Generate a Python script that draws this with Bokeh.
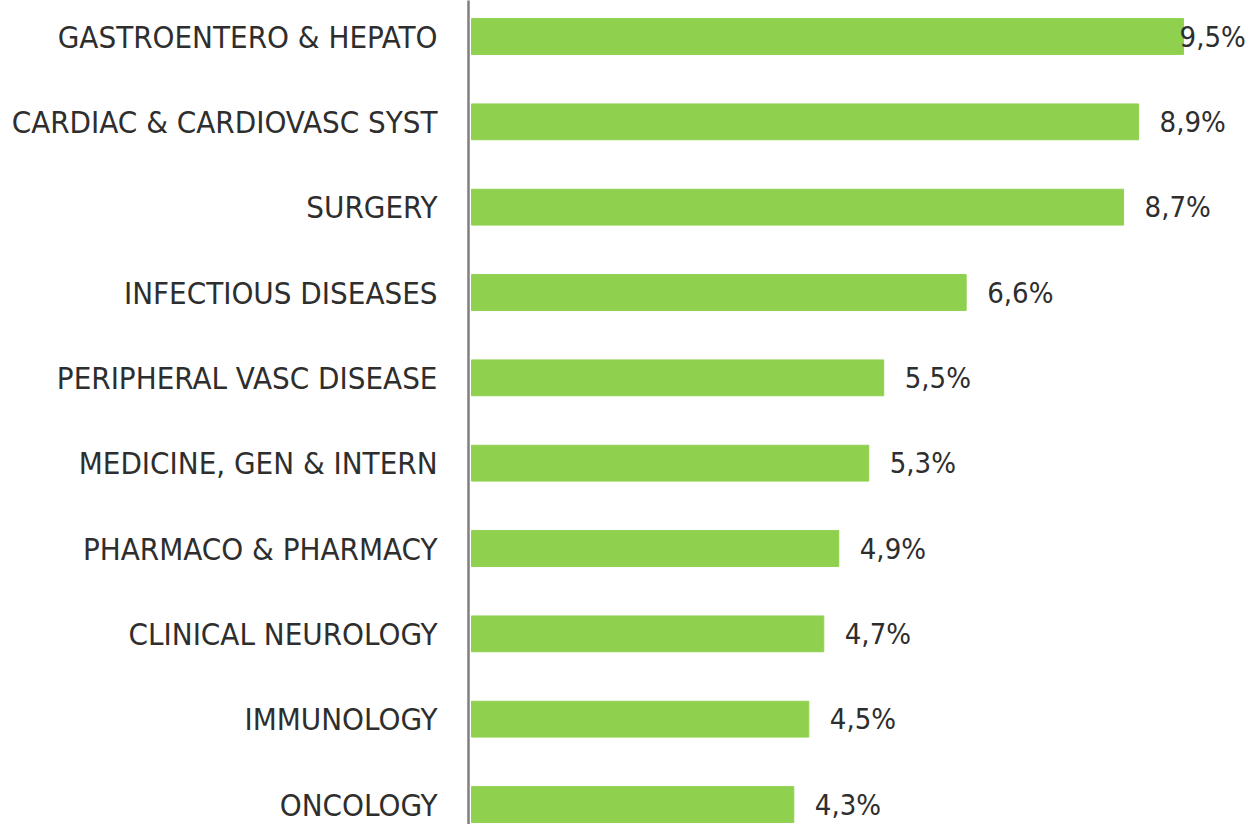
from bokeh.plotting import figure
from bokeh.models import Range1d, FixedTicker, ColumnDataSource
from bokeh.core.properties import value
from bokeh.embed import file_html
from bokeh.resources import INLINE

categories = [
    "GASTROENTERO & HEPATO",
    "CARDIAC & CARDIOVASC SYST",
    "SURGERY",
    "INFECTIOUS DISEASES",
    "PERIPHERAL VASC DISEASE",
    "MEDICINE, GEN & INTERN",
    "PHARMACO & PHARMACY",
    "CLINICAL NEUROLOGY",
    "IMMUNOLOGY",
    "ONCOLOGY",
]
values = [9.5, 8.9, 8.7, 6.6, 5.5, 5.3, 4.9, 4.7, 4.5, 4.3]
value_labels = ["9,5%", "8,9%", "8,7%", "6,6%", "5,5%", "5,3%", "4,9%", "4,7%", "4,5%", "4,3%"]

FONT = "DejaVu Sans Condensed, Open Sans"
BAR = "#8fd14f"
TXT = "#2e2e2e"

pos = list(range(len(categories)))
vmax = max(values)
offsets = [-4 if v == vmax else 21 for v in values]

src = ColumnDataSource(dict(y=pos, v=values, lab=value_labels, off=offsets))

p = figure(width=1246, height=824, output_backend="svg", toolbar_location=None,
           x_range=Range1d(-0.04, 10.34), y_range=Range1d(9.234, -0.422),
           min_border_left=468, min_border_right=0, min_border_top=0, min_border_bottom=0)
p.outline_line_color = None
p.xgrid.visible = False
p.ygrid.visible = False
p.xaxis.visible = False

p.hbar(y="y", left=0, right="v", height=0.42, color=BAR, source=src)
p.text(x="v", y="y", text="lab", x_offset="off", source=src,
       text_font=value(FONT), text_font_size="29px", text_color=TXT,
       text_align="left", text_baseline="middle")

ya = p.yaxis[0]
ya.ticker = FixedTicker(ticks=pos)
ya.major_label_overrides = {i: c for i, c in zip(pos, categories)}
ya.major_tick_line_color = None
ya.minor_tick_line_color = None
ya.major_tick_in = 0
ya.major_tick_out = 0
ya.major_label_standoff = 31
ya.axis_line_color = "#7f7f7f"
ya.axis_line_width = 2.5
ya.major_label_text_font = FONT
ya.major_label_text_font_size = "31px"
ya.major_label_text_color = TXT

open("out.html", "w").write(file_html(p, INLINE))
